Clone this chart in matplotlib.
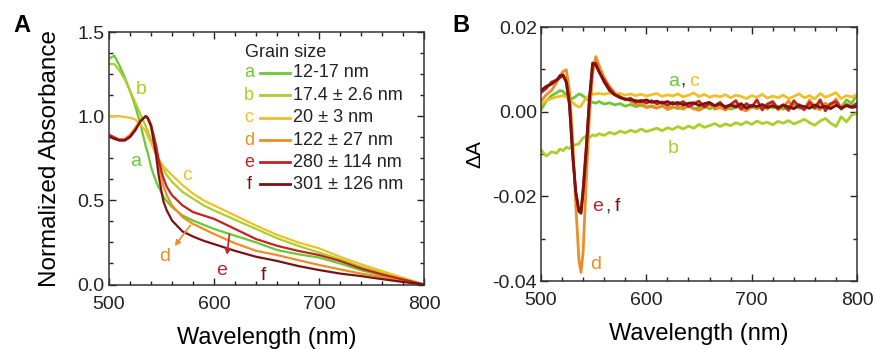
import numpy as np
import matplotlib
matplotlib.use("Agg")
import matplotlib.pyplot as plt
from matplotlib.ticker import MultipleLocator

plt.rcParams['font.family'] = ['Liberation Sans', 'DejaVu Sans']
plt.rcParams['axes.unicode_minus'] = False

# ---- panel A: normalized absorbance ----
wl_a = [500, 505, 510, 515, 520, 525, 530, 535, 537, 540, 542, 545, 547, 550, 552, 555,
        560, 570, 580, 590, 600, 620, 640, 660, 680, 700, 720, 740, 760, 780, 800]
abs_a = [1.34, 1.36, 1.30, 1.23, 1.15, 1.06, 0.95, 0.82, 0.78, 0.70, 0.66, 0.61, 0.58, 0.545, 0.52, 0.495,
         0.46, 0.41, 0.38, 0.355, 0.33, 0.29, 0.25, 0.205, 0.18, 0.16, 0.125, 0.085, 0.055, 0.025, 0.0]
abs_b = [1.31, 1.31, 1.27, 1.22, 1.15, 1.08, 1.01, 0.94, 0.91, 0.86, 0.83, 0.78, 0.75, 0.71, 0.68, 0.65,
         0.61, 0.55, 0.51, 0.47, 0.44, 0.385, 0.33, 0.275, 0.23, 0.19, 0.15, 0.105, 0.07, 0.035, 0.0]
abs_c = [1.00, 1.00, 1.00, 0.995, 0.99, 0.98, 0.95, 0.91, 0.88, 0.84, 0.81, 0.77, 0.75, 0.72, 0.70, 0.68,
         0.65, 0.59, 0.54, 0.50, 0.47, 0.41, 0.35, 0.295, 0.25, 0.215, 0.165, 0.12, 0.08, 0.04, 0.0]
abs_d = [0.88, 0.87, 0.86, 0.865, 0.89, 0.93, 0.98, 1.0, 0.99, 0.94, 0.88, 0.79, 0.72, 0.63, 0.58, 0.53,
         0.47, 0.40, 0.36, 0.33, 0.30, 0.245, 0.20, 0.175, 0.145, 0.116, 0.09, 0.065, 0.045, 0.02, 0.0]
abs_e = [0.89, 0.875, 0.86, 0.86, 0.88, 0.92, 0.97, 1.0, 0.99, 0.95, 0.90, 0.82, 0.75, 0.67, 0.63, 0.58,
         0.53, 0.47, 0.43, 0.41, 0.39, 0.33, 0.27, 0.23, 0.20, 0.175, 0.14, 0.095, 0.06, 0.03, 0.0]
abs_f = [0.88, 0.865, 0.855, 0.855, 0.875, 0.915, 0.97, 1.0, 0.985, 0.94, 0.87, 0.76, 0.66, 0.55, 0.49, 0.44,
         0.38, 0.315, 0.285, 0.26, 0.24, 0.20, 0.165, 0.14, 0.11, 0.086, 0.065, 0.05, 0.032, 0.015, 0.0]

# ---- panel B: difference spectra ----
wl_b = [500, 505, 510, 515, 518, 521, 524, 527, 530, 533,
        536, 538, 540, 543, 546, 549, 552, 555, 560, 565,
        570, 575, 580, 585, 590, 595, 600, 605, 610, 615,
        620, 625, 630, 635, 640, 645, 650, 655, 660, 665,
        670, 675, 680, 685, 690, 695, 700, 705, 710, 715,
        720, 725, 730, 735, 740, 745, 750, 755, 760, 765,
        770, 775, 780, 785, 790, 795, 800]
dA_a = [.0005, .0025, .0038, .0045, .005, .0048, .0038, .0034, .0031, .0036,
        .0042, .004, .0037, .003, .0026, .0022, .002, .0024, .0018, .0021,
        .0016, .0019, .0013, .0017, .0012, .0015, .0011, .0014, .0009, .0013,
        .0008, .0012, .0007, .0011, .0014, .0006, .001, .0013, .0007, .0011,
        .0009, .0013, .0006, .001, .0015, .0008, .0012, .0007, .0011, .0014,
        .0009, .0013, .0006, .0012, .0016, .0008, .0011, .0014, .0007, .0021,
        .0012, .0018, .0024, .001, .0028, .0019, .0042]
dA_b = [-.009, -.0105, -.0095, -.0098, -.0088, -.0092, -.0084, -.0087, -.0081, -.0078,
        -.0076, -.0068, -.0062, -.0058, -.0061, -.0055, -.0057, -.0052, -.0056, -.0049,
        -.0053, -.0046, -.005, -.0044, -.0048, -.0041, -.0047, -.0043, -.0039, -.0045,
        -.0038, -.0042, -.0035, -.0041, -.0034, -.0039, -.003, -.0037, -.0033, -.0028,
        -.0035, -.0029, -.0033, -.0026, -.0031, -.0024, -.003, -.0022, -.0028, -.0025,
        -.0031, -.0023, -.0027, -.0021, -.0029, -.0024, -.0018, -.0026, -.0032, -.0022,
        -.0016, -.0027, -.0035, -.0012, -.0024, -.0008, -.0004]
dA_c = [.0018, .0026, .0031, .0035, .0036, .0038, .0035, .0028, .0022, .0015,
        .0011, .0013, .0022, .0032, .0038, .0041, .0042, .0043, .0041, .0044,
        .004, .0043, .0039, .0042, .0038, .0041, .0037, .004, .0043, .0036,
        .004, .0037, .0042, .0035, .0039, .0044, .0036, .0041, .0034, .0038,
        .0035, .004, .0033, .0039, .0036, .0031, .0038, .0034, .0041, .0032,
        .0037, .0033, .0039, .0031, .0036, .0042, .0033, .0038, .003, .0043,
        .0034, .0039, .0045, .0031, .0038, .0035, .004]
dA_d = [.0025, .004, .005, .007, .0085, .0095, .0099, .005, -.006, -.022,
        -.035, -.038, -.033, -.016, -.001, .009, .013, .011, .008, .006,
        .0045, .0035, .003, .0025, .0015, .002, .001, .0012, .0008, .0015,
        .0005, .001, .0012, .0006, .0014, .0008, .0003, .001, .0018, .0006,
        .001, .0004, .0012, .0016, .0006, .0002, .0012, .0009, .0015, .0006,
        .002, .0004, .0012, .0025, .0008, .0018, .0004, .0028, .001, .0005,
        .002, .0012, .003, .0008, .0018, .0012, .0015]
dA_e = [.0045, .0055, .007, .0075, .008, .0085, .007, .0015, -.010, -.019,
        -.0235, -.0235, -.018, -.008, .003, .011, .0115, .0095, .0075, .0055,
        .004, .0035, .0028, .0032, .0022, .0027, .002, .0026, .0018, .0023,
        .0015, .0022, .0017, .0024, .0012, .0018, .0025, .0011, .0019, .0014,
        .0022, .0008, .0017, .0026, .0006, .0019, .0011, .0028, .0004, .0018,
        .0024, .0007, .0016, .0003, .0026, .0012, .0005, .0022, .0009, .0028,
        .0002, .0019, .0024, .0006, .0016, .0011, .002]
dA_f = [.005, .006, .0065, .0075, .0085, .0087, .007, .002, -.010, -.019,
        -.0235, -.024, -.019, -.009, .003, .0115, .011, .0095, .007, .005,
        .004, .0033, .003, .0028, .0026, .0024, .0028, .0022, .0025, .002,
        .0024, .0018, .0022, .0016, .002, .0021, .0015, .0019, .0022, .0014,
        .0018, .0012, .0016, .0011, .0019, .0008, .0015, .0012, .0017, .001,
        .0014, .0009, .0016, .0011, .0007, .0015, .0012, .0008, .0016, .001,
        .0013, .0007, .0015, .0009, .0014, .001, .0012]

letters = ['a', 'b', 'c', 'd', 'e', 'f']
sizes = ['12-17 nm', '17.4 ± 2.6 nm', '20 ± 3 nm', '122 ± 27 nm', '280 ± 114 nm', '301 ± 126 nm']
colors = ['#6cc832', '#a8d028', '#f0c028', '#f08c24', '#c42222', '#7a1212']

fig = plt.figure(figsize=(8.75, 3.49), dpi=100)
axA = fig.add_axes([0.1246, 0.1848, 0.36, 0.7235])
axB = fig.add_axes([0.6183, 0.1948, 0.3611, 0.7278])

spec_a = [abs_a, abs_b, abs_c, abs_d, abs_e, abs_f]
for y, col in zip(spec_a, colors):
    axA.plot(wl_a, y, color=col, lw=1.6)

axA.set_xlim(500, 800)
axA.set_ylim(0, 1.5)
axA.xaxis.set_major_locator(MultipleLocator(100))
axA.xaxis.set_minor_locator(MultipleLocator(20))
axA.yaxis.set_major_locator(MultipleLocator(0.5))
axA.yaxis.set_minor_locator(MultipleLocator(0.125))
axA.yaxis.set_major_formatter(plt.FormatStrFormatter('%.1f'))
axA.set_xlabel('Wavelength (nm)', fontsize=17, labelpad=10)
axA.set_ylabel('Normalized Absorbance', fontsize=17.5, labelpad=12)

# legend drawn by hand: coloured letter, line, size text
axA.text(0.432, 0.917, 'Grain size', transform=axA.transAxes, fontsize=13,
         ha='left', va='center', color='#222222')
rows = [0.838, 0.750, 0.661, 0.572, 0.485, 0.398]
for i in range(6):
    axA.text(0.444, rows[i], letters[i], transform=axA.transAxes, fontsize=13,
             ha='center', va='center', color=colors[i])
    axA.plot([0.479, 0.575], [rows[i], rows[i]], transform=axA.transAxes,
             color=colors[i], lw=2)
    axA.text(0.584, rows[i], sizes[i], transform=axA.transAxes, fontsize=13,
             ha='left', va='center', color='#222222')

# curve labels in A
axA.text(531, 1.156, 'b', color=colors[1], fontsize=14, ha='center', va='center')
axA.text(525, 0.73, 'a', color=colors[0], fontsize=14, ha='center', va='center')
axA.text(574, 0.65, 'c', color=colors[2], fontsize=14, ha='center', va='center')
axA.text(553, 0.165, 'd', color=colors[3], fontsize=14, ha='center', va='center')
axA.text(607, 0.086, 'e', color=colors[4], fontsize=14, ha='center', va='center')
axA.text(647, 0.056, 'f', color=colors[5], fontsize=14, ha='center', va='center')
axA.annotate('', xy=(561, 0.215), xytext=(579, 0.365),
             arrowprops=dict(arrowstyle='-|>', color=colors[3], lw=1.2, mutation_scale=8))
axA.annotate('', xy=(612, 0.16), xytext=(615, 0.315),
             arrowprops=dict(arrowstyle='-|>', color=colors[4], lw=1.2, mutation_scale=8))

spec_b = [dA_a, dA_b, dA_c, dA_d, dA_e, dA_f]
for y, col in zip(spec_b, colors):
    axB.plot(wl_b, y, color=col, lw=2)

axB.set_xlim(500, 800)
axB.set_ylim(-0.04, 0.02)
axB.xaxis.set_major_locator(MultipleLocator(100))
axB.xaxis.set_minor_locator(MultipleLocator(20))
axB.yaxis.set_major_locator(MultipleLocator(0.02))
axB.yaxis.set_minor_locator(MultipleLocator(0.01))
axB.yaxis.set_major_formatter(plt.FormatStrFormatter('%.2f'))
axB.set_xlabel('Wavelength (nm)', fontsize=17, labelpad=10)
axB.set_ylabel('ΔA', fontsize=15, labelpad=6)

# curve labels in B
axB.text(620.5, 0.0072, 'a', color=colors[0], fontsize=14, ha='left', va='center')
axB.text(632, 0.0072, ',', color='#333333', fontsize=14, ha='left', va='center')
axB.text(641, 0.0072, 'c', color=colors[2], fontsize=14, ha='left', va='center')
axB.text(620.5, -0.0086, 'b', color=colors[1], fontsize=14, ha='left', va='center')
axB.text(549, -0.0224, 'e', color=colors[4], fontsize=14, ha='left', va='center')
axB.text(561, -0.0224, ',', color='#333333', fontsize=14, ha='left', va='center')
axB.text(570, -0.0224, 'f', color=colors[5], fontsize=14, ha='left', va='center')
axB.text(546.5, -0.0362, 'd', color=colors[3], fontsize=14, ha='left', va='center')

for ax in (axA, axB):
    ax.tick_params(which='both', direction='in', top=True, right=True,
                   labelsize=14, colors='#222222')
    ax.tick_params(which='major', length=5, width=1)
    ax.tick_params(which='minor', length=3, width=1)
    ax.tick_params(axis='x', pad=8)
    ax.tick_params(axis='y', pad=3)
    for s in ax.spines.values():
        s.set_linewidth(1.1)
        s.set_color('#333333')

fig.text(0.015, 0.909, 'A', fontsize=17, fontweight='bold')
fig.text(0.517, 0.909, 'B', fontsize=17, fontweight='bold')

fig.savefig('out.png', dpi=100)
